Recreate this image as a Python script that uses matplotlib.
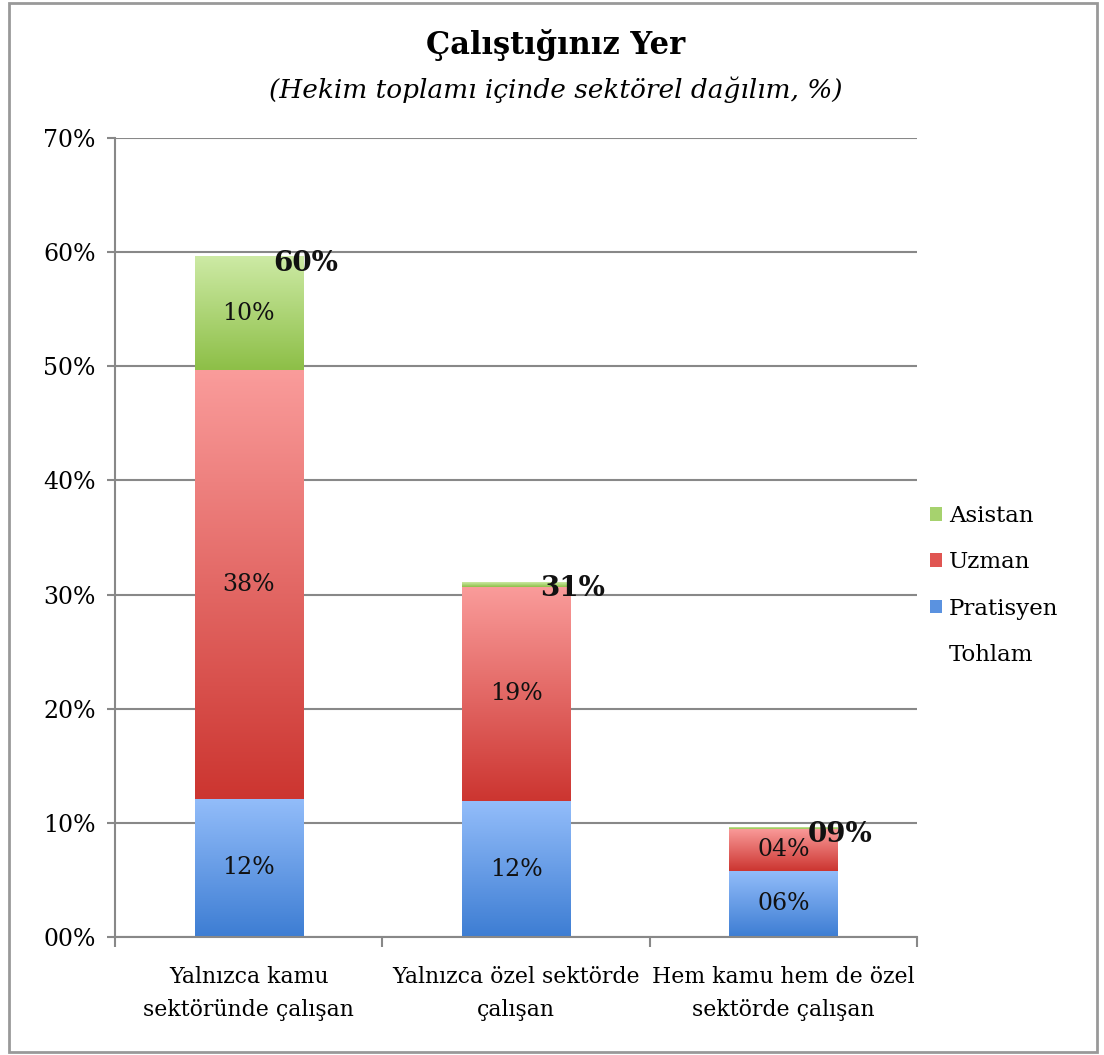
import numpy as np
import matplotlib.pyplot as plt
from matplotlib.patches import Rectangle
from matplotlib.colors import LinearSegmentedColormap

categories = ['Yalnızca kamu\nsektöründe çalışan',
              'Yalnızca özel sektörde\nçalışan',
              'Hem kamu hem de özel\nsektörde çalışan']
pratisyen = [12.1, 11.9, 5.8]
uzman = [37.6, 18.8, 3.7]
asistan = [9.9, 0.4, 0.1]
tohlam = [60, 31, 9]
yticks = [0, 10, 20, 30, 40, 50, 60, 70]

font = 'DejaVu Serif'
plt.rcParams['font.family'] = font

fig = plt.figure(figsize=(11.04, 10.55), dpi=100)
ax = fig.add_axes([0.1042, 0.1118, 0.7264, 0.7574])

x = np.arange(len(categories))
w = 0.405
grads = {
    'Pratisyen': ('#3d7dd3', '#93bdfa'),
    'Uzman': ('#cc3530', '#fa9c9b'),
    'Asistan': ('#8dbf47', '#cdeaa5'),
}
legend_cols = {'Pratisyen': '#5a92e0', 'Uzman': '#e05552', 'Asistan': '#a6d26e'}
series = [('Pratisyen', pratisyen), ('Uzman', uzman), ('Asistan', asistan)]
bottom = np.zeros(len(categories))
grad = np.linspace(0, 1, 256).reshape(-1, 1)
for name, vals in series:
    lo, hi = grads[name]
    cmap = LinearSegmentedColormap.from_list(name, [lo, hi])
    bars = ax.bar(x, vals, w, bottom=bottom, color='none', edgecolor='none', zorder=2)
    for b, v in zip(bars, vals):
        x0, y0 = b.get_x(), b.get_y()
        ax.imshow(grad, cmap=cmap, aspect='auto', origin='lower',
                  extent=(x0, x0 + b.get_width(), y0, y0 + b.get_height()),
                  zorder=2, interpolation='bicubic')
        if v >= 1:
            ax.text(x0 + b.get_width() / 2, y0 + v / 2, '%02d%%' % round(v),
                    ha='center', va='center', fontsize=17, color='#111111', zorder=4)
    bottom = bottom + np.array(vals)

for xi, top, t in zip(x, bottom, tohlam):
    ax.annotate('%02d%%' % t, (xi + w / 2, top), xytext=(2, -5),
                textcoords='offset points', ha='center', va='center',
                fontsize=20, fontweight='bold', color='#111111', zorder=5)

ax.set_xlim(-0.5, 2.5)
ax.set_ylim(0, 70)
ax.set_yticks(yticks)
ax.set_yticklabels(['%02d%%' % t for t in yticks], fontsize=17)
ax.set_xticks(x)
ax.set_xticklabels(categories, fontsize=15.8, linespacing=1.65)
ax.set_xticks([-0.5, 0.5, 1.5, 2.5], minor=True)
ax.tick_params(axis='x', which='major', length=0, pad=21)
ax.tick_params(axis='x', which='minor', length=7, width=1.5, color='#888888', direction='out')
ax.tick_params(axis='y', length=6, width=1.5, color='#888888', pad=8)
ax.grid(axis='y', color='#888888', linewidth=1.5, zorder=0)
ax.set_axisbelow(True)
for s in ['top', 'right']:
    ax.spines[s].set_visible(False)
for s in ['left', 'bottom']:
    ax.spines[s].set_color('#888888')
    ax.spines[s].set_linewidth(1.5)

proxy = [Rectangle((0, 0), 1, 1, fc=legend_cols[n], ec='none') for n in ['Asistan', 'Uzman', 'Pratisyen']]
proxy.append(Rectangle((0, 0), 1, 1, fc='none', ec='none'))
fig.legend(proxy, ['Asistan', 'Uzman', 'Pratisyen', 'Tohlam'], loc='center left',
           bbox_to_anchor=(0.842, 0.445), frameon=False, fontsize=16.5,
           handlelength=0.55, handleheight=0.55, handletextpad=0.3, labelspacing=1.05,
           borderpad=0, borderaxespad=0)

fig.text(0.503, 0.957, 'Çalıştığınız Yer', ha='center', va='center',
         fontsize=22, fontweight='bold')
fig.text(0.503, 0.915, '(Hekim toplamı içinde sektörel dağılım, %)', ha='center',
         va='center', fontsize=19, style='italic')

fig.patches.append(Rectangle((0.008, 0.003), 0.986, 0.994, transform=fig.transFigure,
                             fill=False, ec='#999999', lw=2))

fig.savefig('out.png', dpi=100)
